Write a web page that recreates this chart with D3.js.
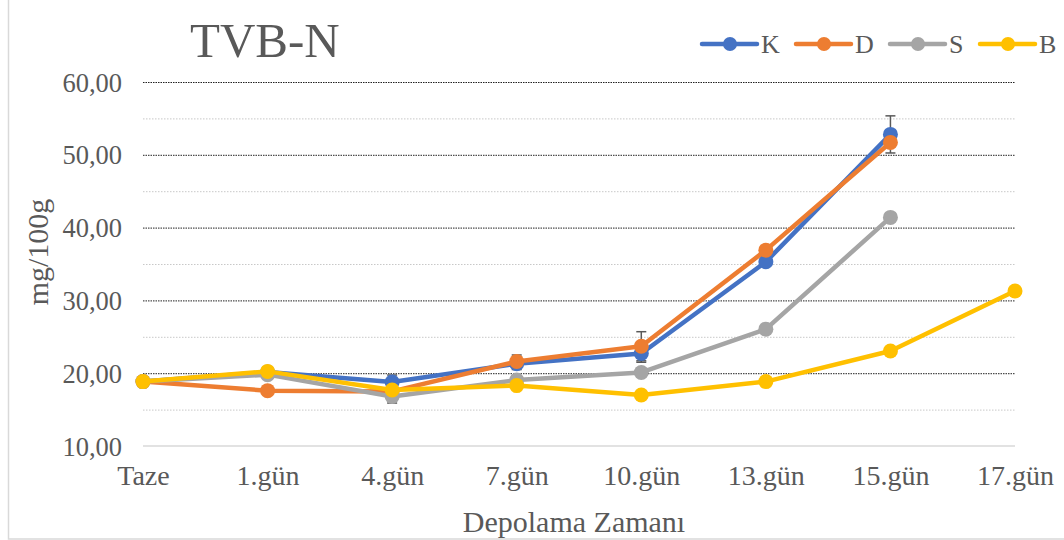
<!DOCTYPE html>
<html>
<head>
<meta charset="utf-8">
<script src="https://cdn.jsdelivr.net/npm/d3@7"></script>
<style>
  html, body { margin: 0; padding: 0; background: #fff; }
  svg { display: block; font-family: "Liberation Serif", "Times New Roman", serif; }
</style>
</head>
<body>
<svg id="chart" width="1064" height="540"></svg>
<script>
// ---- Data ----
const categories = ["Taze", "1.gün", "4.gün", "7.gün", "10.gün", "13.gün", "15.gün", "17.gün"];
const seriesNames = ["K", "D", "S", "B"];
const seriesColors = ["#4472C4", "#ED7D31", "#A5A5A5", "#FFC000"];
const valuesK = [18.85, 20.15, 18.8, 21.3, 22.7, 35.3, 52.8, null];
const valuesD = [18.85, 17.6, 17.5, 21.6, 23.7, 36.9, 51.7, null];
const valuesS = [18.85, 19.8, 16.8, 19.05, 20.1, 26.05, 41.4, null];
const valuesB = [18.85, 20.25, 17.7, 18.3, 17.0, 18.85, 23.05, 31.3];
const errorsK = [0, 0, 0.95, 0.8, 1.2, 0, 2.55, 0];
const errorsD = [0, 0, 0, 0.9, 2.0, 0, 0, 0];
const errorsS = [0, 0, 0.9, 0, 0, 0, 0, 0];
const errorsB = [0, 0, 0, 0, 0, 0, 0, 0];
const yTicks = [10, 20, 30, 40, 50, 60];
const yMinorTicks = [15, 25, 35, 45, 55];

const allValues = [valuesK, valuesD, valuesS, valuesB];
const allErrors = [errorsK, errorsD, errorsS, errorsB];

// ---- Layout ----
const svg = d3.select("#chart");
const plotLeft = 143, plotRight = 1015, plotTop = 82, plotBottom = 446;
const serif = "Liberation Serif, Times New Roman, serif";

const x = d3.scalePoint().domain(categories).range([plotLeft, plotRight]);
const y = d3.scaleLinear().domain([10, 60]).range([plotBottom, plotTop]);

// chart border
svg.append("rect").attr("x", 8.5).attr("y", -2).attr("width", 1060).attr("height", 541)
  .attr("fill", "none").attr("stroke", "#d9d9d9").attr("stroke-width", 1.5);

// minor gridlines
svg.append("g").selectAll("line").data(yMinorTicks).join("line")
  .attr("x1", plotLeft).attr("x2", plotRight)
  .attr("y1", d => y(d) + 0.5).attr("y2", d => y(d) + 0.5)
  .attr("stroke", "#c8c8c8").attr("stroke-width", 1).attr("stroke-dasharray", "1.5,1.5");

// major gridlines
svg.append("g").selectAll("line").data(yTicks.filter(d => d > 10)).join("line")
  .attr("x1", plotLeft).attr("x2", plotRight)
  .attr("y1", d => y(d) + 0.5).attr("y2", d => y(d) + 0.5)
  .attr("stroke", "#222").attr("stroke-width", 1).attr("stroke-dasharray", "1.5,1");

// baseline axis
svg.append("line").attr("x1", plotLeft).attr("x2", plotRight)
  .attr("y1", y(10)).attr("y2", y(10))
  .attr("stroke", "#d9d9d9").attr("stroke-width", 1.5);

// y axis labels via d3 axis
const yAxis = d3.axisLeft(y).tickValues(yTicks)
  .tickFormat(d => d3.format(".2f")(d).replace(".", ","))
  .tickSize(0).tickPadding(0);
const gy = svg.append("g").attr("transform", `translate(122,0)`).call(yAxis);
gy.select(".domain").remove();
gy.selectAll("text").attr("font-size", 26.5).attr("fill", "#595959")
  .attr("font-family", serif).attr("dy", "0.34em");

// x axis labels
const xAxis = d3.axisBottom(x).tickSize(0).tickPadding(0);
const gx = svg.append("g").attr("transform", `translate(0,465)`).call(xAxis);
gx.select(".domain").remove();
gx.selectAll("text").attr("font-size", 28).attr("fill", "#595959")
  .attr("font-family", serif).attr("dy", "0.71em");

// axis titles
svg.append("text").attr("x", 574).attr("y", 532).attr("text-anchor", "middle")
  .attr("font-family", serif).attr("font-size", 30).attr("fill", "#595959").text("Depolama Zamanı");
svg.append("text").attr("transform", "translate(48,252) rotate(-90)")
  .attr("text-anchor", "middle").attr("font-family", serif).attr("font-size", 30)
  .attr("fill", "#595959").text("mg/100g");

// title
svg.append("text").attr("x", 190).attr("y", 57).attr("font-family", serif).attr("font-size", 49)
  .attr("fill", "#595959").text("TVB-N");

// error bars
const eb = svg.append("g");
allValues.forEach((vals, si) => {
  const errs = allErrors[si];
  categories.forEach((c, i) => {
    const v = vals[i], e = errs[i];
    if (v == null || !e) return;
    const cx = x(c), y1 = y(v + e), y2 = y(v - e);
    eb.append("line").attr("x1", cx).attr("x2", cx).attr("y1", y1).attr("y2", y2)
      .attr("stroke", "#595959").attr("stroke-width", 1.5);
    [y1, y2].forEach(yy => eb.append("line").attr("x1", cx - 5).attr("x2", cx + 5)
      .attr("y1", yy).attr("y2", yy).attr("stroke", "#595959").attr("stroke-width", 1.5));
  });
});

// lines + markers
const line = d3.line().defined(d => d.v != null).x(d => x(d.c)).y(d => y(d.v));
allValues.forEach((vals, si) => {
  const pts = categories.map((c, i) => ({ c, v: vals[i] }));
  const g = svg.append("g");
  g.append("path").datum(pts).attr("d", line).attr("fill", "none")
    .attr("stroke", seriesColors[si]).attr("stroke-width", 4.5).attr("stroke-linejoin", "round");
  g.selectAll("circle").data(pts.filter(d => d.v != null)).join("circle")
    .attr("cx", d => x(d.c)).attr("cy", d => y(d.v)).attr("r", 7.5)
    .attr("fill", seriesColors[si]);
});

// legend
const legendX = [702, 796, 890, 980];
const leg = svg.append("g");
seriesNames.forEach((n, i) => {
  const lx = legendX[i], ly = 44;
  leg.append("line").attr("x1", lx).attr("x2", lx + 55).attr("y1", ly).attr("y2", ly)
    .attr("stroke", seriesColors[i]).attr("stroke-width", 4.5).attr("stroke-linecap", "round");
  leg.append("circle").attr("cx", lx + 28).attr("cy", ly).attr("r", 7).attr("fill", seriesColors[i]);
  leg.append("text").attr("x", lx + 59).attr("y", ly + 9).attr("font-family", serif).attr("font-size", 26)
    .attr("fill", "#595959").text(n);
});
</script>
</body>
</html>
